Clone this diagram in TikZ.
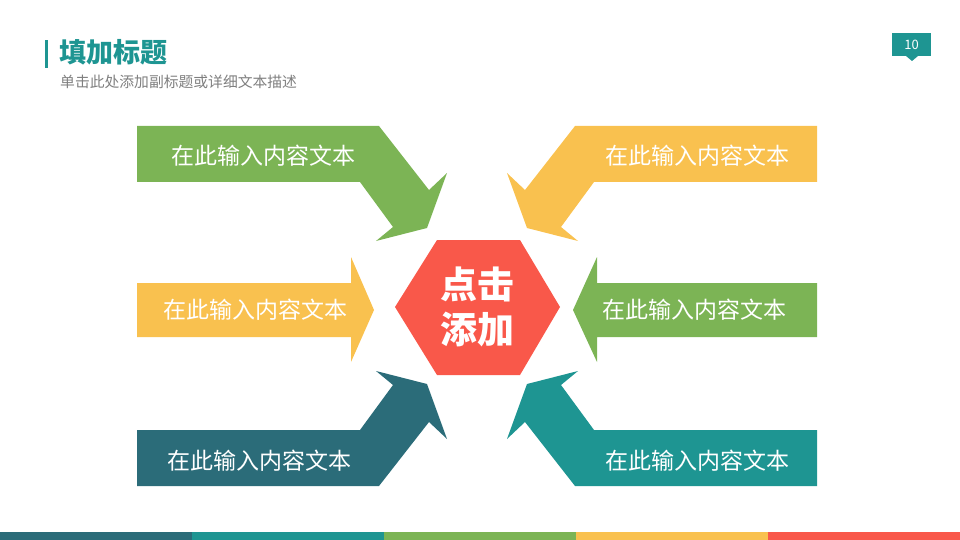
\documentclass[tikz,border=0pt]{standalone}
\usepackage{fontspec}
\setmainfont{Noto Sans CJK SC}
\usepackage{xcolor}
\definecolor{leafgreen}{HTML}{7CB455}
\definecolor{sunyellow}{HTML}{F9C14F}
\definecolor{tomatored}{HTML}{F9584A}
\definecolor{deepteal}{HTML}{2B6C79}
\definecolor{seateal}{HTML}{1E9592}
\definecolor{subgray}{HTML}{7F7F7F}

\begin{document}
\begin{tikzpicture}[x=1pt, y=-1pt,
    armtext/.style={text=white, font=\fontsize{23}{27}\selectfont, inner sep=0pt},
    centertext/.style={text=white, font=\fontsize{37}{45}\selectfont\bfseries, align=center, inner sep=0pt}]
  \useasboundingbox (0,0) rectangle (960,540);

  % header
  \fill[seateal] (45,40) rectangle (48,68);
  \node[anchor=west, text=seateal, font=\fontsize{27}{31}\selectfont\bfseries, inner sep=0pt] (title) at (59,52) {填加标题};
  \node[anchor=west, text=subgray, font=\fontsize{14.8}{17}\selectfont, inner sep=0pt] (subtitle) at (60,82) {单击此处添加副标题或详细文本描述};
  \fill[seateal] (892,33) rectangle (931,56);
  \fill[seateal] (906,56) -- (918,56) -- (912,61) -- cycle;
  \node[text=white, font=\fontsize{13}{15}\selectfont, inner sep=0pt] (pagenum) at (911.5,44.5) {10};

  % arrows
  \fill[leafgreen] (137,126) -- (379,126) -- (429,190) -- (447,173) -- (427,228) -- (376,241) -- (393,227) -- (360,182) -- (137,182) -- cycle;
  \fill[sunyellow] (817,126) -- (575,126) -- (525,190) -- (507,173) -- (527,228) -- (578,241) -- (561,227) -- (594,182) -- (817,182) -- cycle;
  \fill[sunyellow] (137,283) -- (351,283) -- (351,257) -- (374,310) -- (351,362) -- (351,337) -- (137,337) -- cycle;
  \fill[leafgreen] (817,283) -- (597,283) -- (597,257) -- (573,310) -- (597,362) -- (597,337) -- (817,337) -- cycle;
  \fill[deepteal] (137,486) -- (379,486) -- (429,422) -- (447,439) -- (427,384) -- (376,371) -- (393,385) -- (360,430) -- (137,430) -- cycle;
  \fill[seateal] (817,486) -- (575,486) -- (525,422) -- (507,439) -- (527,384) -- (578,371) -- (561,385) -- (594,430) -- (817,430) -- cycle;

  \node[armtext] (armtl) at (263,156) {在此输入内容文本};
  \node[armtext] (armtr) at (697,156) {在此输入内容文本};
  \node[armtext] (armml) at (255,310) {在此输入内容文本};
  \node[armtext] (armmr) at (694,310) {在此输入内容文本};
  \node[armtext] (armbl) at (259,461) {在此输入内容文本};
  \node[armtext] (armbr) at (697,461) {在此输入内容文本};

  % hub
  \fill[tomatored] (395,307) -- (437,240) -- (520,240) -- (560,307) -- (520,375) -- (437,375) -- cycle;
  \node[centertext] (hub) at (477,307) {点击\\添加};

  % footer bar
  \foreach \c [count=\i from 0] in {deepteal, seateal, leafgreen, sunyellow, tomatored}
    \fill[\c] (192*\i,532) rectangle (192*\i+192,540);
\end{tikzpicture}
\end{document}
